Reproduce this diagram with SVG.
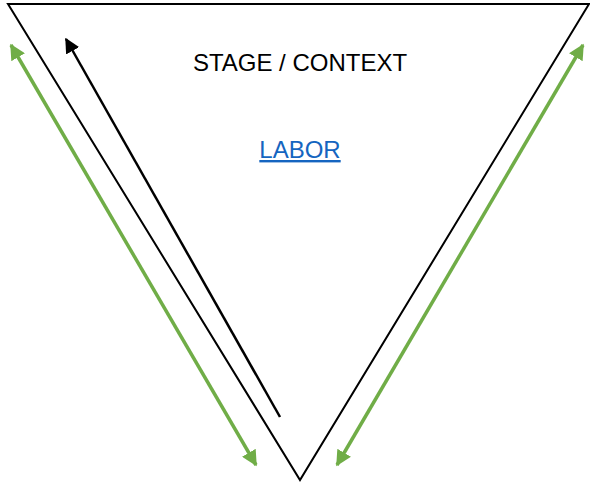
<svg xmlns="http://www.w3.org/2000/svg" width="590" height="483" viewBox="0 0 590 483">
<style>
.t{font-family:"Liberation Sans",Arial,sans-serif;font-size:24px;text-anchor:middle}
.g{stroke:#70AD47;stroke-width:3.5;fill:none}
</style>
<defs>
<marker id="gh" viewBox="0 0 10 10" refX="9" refY="5" markerWidth="4.5" markerHeight="4.5" orient="auto-start-reverse" markerUnits="strokeWidth"><path d="M0,0L10,5L0,10Z" fill="#70AD47"/></marker>
<marker id="bh" viewBox="0 0 10 10" refX="9" refY="5" markerWidth="6" markerHeight="6" orient="auto" markerUnits="strokeWidth"><path d="M0,0L10,5L0,10Z" fill="#000"/></marker>
</defs>
<g id="stage">
<polygon points="8,4 589,4 300,480" fill="#fff" stroke="#000" stroke-width="2"/>
<text class="t" x="300" y="71">STAGE / CONTEXT</text>
<text class="t" x="300" y="158" fill="#1565C0" text-decoration="underline">LABOR</text>
</g>
<g id="connectors">
<line x1="280" y1="417" x2="66" y2="39" stroke="#000" stroke-width="2.5" marker-end="url(#bh)"/>
<line class="g" x1="11" y1="45" x2="256" y2="465" marker-start="url(#gh)" marker-end="url(#gh)"/>
<line class="g" x1="337" y1="465" x2="583" y2="45" marker-start="url(#gh)" marker-end="url(#gh)"/>
</g>
</svg>
